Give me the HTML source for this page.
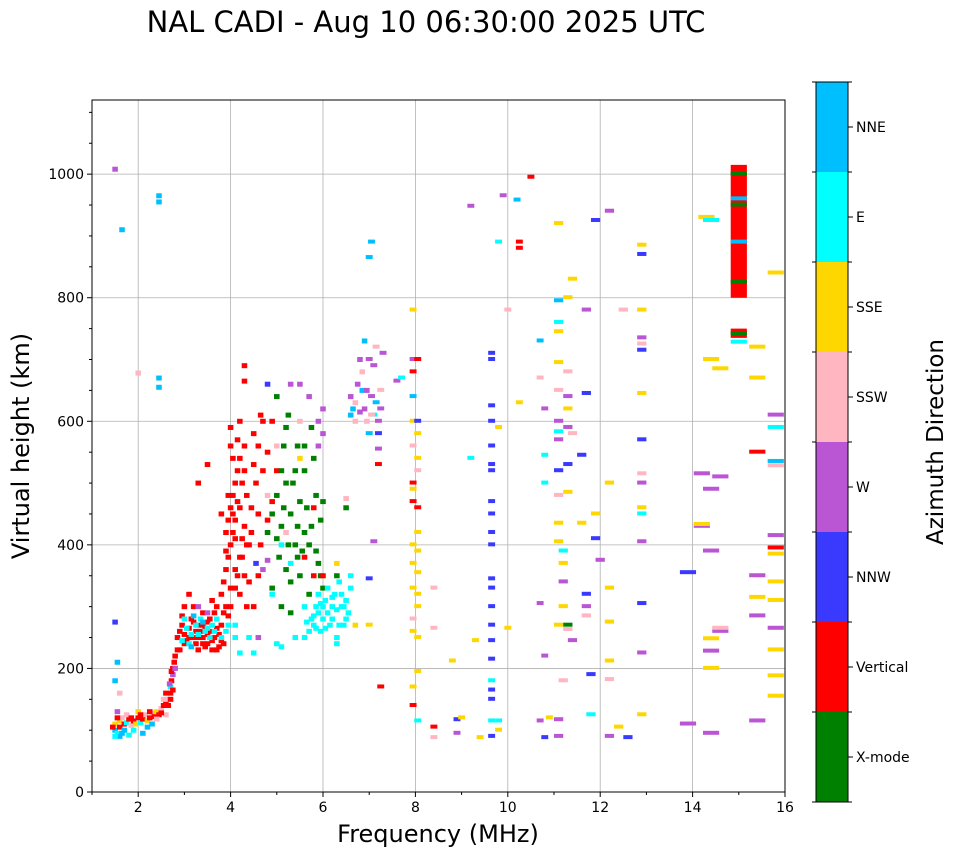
<!DOCTYPE html>
<html><head><meta charset="utf-8"><style>
html,body{margin:0;padding:0;background:#fff;}
svg{display:block;font-family:"DejaVu Sans","Liberation Sans",sans-serif;}
</style></head><body>
<svg id="chart" width="958" height="857" viewBox="0 0 958 857" xmlns="http://www.w3.org/2000/svg">
<rect width="958" height="857" fill="#fff"/>
<text x="426" y="32" font-size="29" text-anchor="middle">NAL CADI - Aug 10 06:30:00 2025 UTC</text>
<g id="grid"></g>
<g id="marks"></g>
<rect x="92" y="100" width="693" height="692" fill="none" stroke="#000" stroke-width="1"/>
<g id="axes"></g>
<text x="438" y="842" font-size="24" text-anchor="middle">Frequency (MHz)</text>
<text transform="translate(29,446) rotate(-90)" font-size="24" text-anchor="middle">Virtual height (km)</text>
<g id="cbar"></g>
<text transform="translate(943,442) rotate(-90)" font-size="23" text-anchor="middle">Azimuth Direction</text>
</svg>
<script>
const NS="http://www.w3.org/2000/svg";
const directions=["X-mode","Vertical","NNW","W","SSW","SSE","E","NNE"];
const dirColors=["#008000","#ff0000","#3a3aff","#ba55d3","#ffb6c1","#ffd700","#00ffff","#00bfff"];
const xTicks=[2,4,6,8,10,12,14,16];
const yTicks=[0,200,400,600,800,1000];
// points: [frequency MHz, virtual height km, direction index, optional extent km]
const points=[
[1.5,100,7],[1.5,110,5],[1.55,95,6],[1.6,105,1],[1.6,115,5],[1.65,120,4],[1.7,110,1],[1.7,100,7],[1.75,112,6],[1.8,118,1],[1.85,108,4],[1.9,115,1],[1.95,110,5],[2.0,120,1],[2.05,112,6],[2.1,118,1],[2.15,125,4],[2.2,115,5],[2.25,120,1],[2.3,128,4],[2.35,122,1],[2.4,130,5],[2.45,125,1],[2.5,135,4],[2.55,140,1],[2.6,145,1],[2.65,150,4],[2.7,160,1],[2.7,170,6],[2.72,180,1],[2.75,190,3],[2.75,200,1],[2.78,210,1],[1.6,90,7],[1.8,92,6],[2.1,95,7],[2.0,130,5],[1.55,130,3],[1.5,275,2],[1.55,210,7],[1.5,180,7],[1.6,160,4],[1.5,1008,3],[1.65,910,7],[2.45,965,7],[2.45,955,7],[2.45,670,7],[2.45,655,7],[2.0,678,4],[1.45,105,1],[1.5,90,6],[2.3,110,7],[2.6,125,4],[2.65,140,1],[2.7,150,1],
[1.55,120,1],[1.65,95,7],[1.75,125,4],[1.85,120,1],[1.9,100,6],[2.05,125,1],[2.2,105,7],[2.25,130,1],[2.4,118,4],[2.5,128,1],[2.55,150,4],[2.6,160,1],[2.68,175,3],[2.72,195,1],[2.75,165,1],[2.8,220,1],[2.8,200,3],[2.85,230,1],
[2.85,250,1],[2.9,260,1],[2.95,270,1],[3.0,255,1],[3.05,245,1],[3.1,265,1],[3.15,280,1],[3.2,250,1],[3.25,240,1],[3.3,270,1],[3.35,260,1],[3.4,250,1],[3.45,235,1],[3.5,275,1],[3.55,260,1],[3.6,245,1],[3.65,290,1],[3.7,230,1],[3.75,255,1],[3.8,270,1],[3.85,240,1],[3.9,300,1],[3.95,285,1],[2.9,230,1],[3.0,300,1],[3.1,320,1],[3.2,300,1],[3.4,290,1],[3.6,310,1],[3.5,240,1],[3.3,230,1],[3.65,250,1],[3.75,235,1],[3.55,280,1],[3.45,265,1],
[3.0,240,1],[3.1,250,1],[3.2,275,1],[3.3,250,1],[3.4,240,1],[3.5,255,1],[3.6,230,1],[3.7,265,1],[3.8,245,1],[3.85,290,1],[3.7,300,1],[3.4,270,1],[3.25,260,1],[2.95,285,1],
[2.95,245,6],[3.0,280,6],[3.1,240,6],[3.15,255,6],[3.25,270,6],[3.35,280,6],[3.45,260,6],[3.55,250,6],[3.6,270,6],[3.7,280,6],[3.8,250,6],[3.9,260,6],[4.1,250,6],[4.1,270,6],[4.2,225,6],[4.5,225,6],[4.4,250,6],[3.05,265,6],[3.2,285,7],[3.4,275,7],[3.3,255,6],[3.5,265,6],[3.15,235,7],[3.65,260,6],[3.95,270,6],
[3.3,300,3],[3.5,290,3],[4.6,250,3],[4.7,360,3],[4.8,375,3],[4.55,370,2],
[3.8,320,1],[3.85,340,1],[3.9,360,1],[3.95,380,1],[4.0,400,1],[4.05,420,1],[4.1,440,1],[4.0,460,1],[4.05,480,1],[4.1,500,1],[4.15,520,1],[4.2,540,1],[4.0,560,1],[4.0,590,1],[4.2,600,1],[4.3,520,1],[4.3,430,1],[4.25,380,1],[4.15,350,1],[4.1,330,1],[4.35,300,1],[4.4,400,1],[3.9,420,1],[3.95,440,1],[4.45,460,1],[4.5,530,1],[4.6,560,1],[4.7,600,1],[4.65,610,1],[4.3,690,1],[4.3,665,1],[3.8,450,1],[3.5,530,1],[3.3,500,1],[4.2,460,1],[4.4,340,1],[4.5,300,1],[4.6,350,1],[4.8,440,1],[4.9,470,1],[4.7,520,1],[5.0,520,1],[4.1,360,1],[4.2,320,1],[4.0,300,1],[4.25,410,1],[4.35,480,1],
[3.9,390,1],[4.0,330,1],[4.1,410,1],[4.15,470,1],[4.2,380,1],[4.3,350,1],[4.05,540,1],[4.15,570,1],[4.3,560,1],[3.95,480,1],[4.05,450,1],[4.25,500,1],[4.35,400,1],[4.45,420,1],[4.5,580,1],[4.55,500,1],[4.6,450,1],[4.65,400,1],[4.8,550,1],[4.9,600,1],
[4.8,420,0],[4.9,450,0],[5.0,480,0],[5.05,380,0],[5.1,430,0],[5.15,560,0],[5.2,590,0],[5.2,500,0],[5.3,450,0],[5.3,340,0],[5.4,400,0],[5.45,380,0],[5.5,350,0],[5.5,470,0],[5.6,420,0],[5.6,520,0],[5.7,400,0],[5.7,320,0],[5.8,540,0],[5.85,480,0],[5.9,370,0],[5.95,440,0],[6.0,330,0],[5.1,300,0],[5.3,290,0],[5.25,610,0],[5.0,640,0],[6.0,470,0],[5.75,590,0],[4.9,330,0],[5.4,520,0],[5.6,560,0],
[5.0,410,0],[5.15,460,0],[5.25,400,0],[5.35,500,0],[5.45,430,0],[5.55,390,0],[5.65,460,0],[5.75,430,0],[5.85,390,0],[5.95,350,0],[5.2,360,0],[5.45,560,0],[5.1,520,0],
[4.8,480,4],[5.0,560,4],[5.2,420,4],[5.5,600,4],[5.9,560,3],[6.0,620,3],[6.0,580,3],[5.9,600,3],[5.7,640,3],[5.5,660,3],[5.3,660,3],[4.8,660,2],[5.1,400,6],[5.3,370,6],[5.6,300,6],[4.9,320,6],[5.4,250,6],[5.1,235,6],[5.0,240,6],[5.8,350,1],[5.6,380,1],[6.0,350,1],[5.8,460,1],[5.5,540,5],
[5.7,260,6],[5.75,280,6],[5.8,270,6],[5.85,300,6],[5.9,290,6],[5.95,260,6],[6.0,280,6],[6.05,310,6],[6.1,290,6],[6.15,270,6],[6.2,300,6],[6.25,320,6],[6.3,250,6],[6.35,340,6],[6.4,300,6],[6.45,270,6],[6.5,310,6],[6.55,290,6],[6.6,330,6],[6.6,350,6],[6.3,240,6],[6.1,330,6],[5.9,320,6],[5.6,250,6],[5.65,275,6],[6.4,320,6],[6.5,280,6],
[5.8,285,6],[5.95,305,6],[6.05,265,6],[6.2,280,6],[6.3,295,6],[6.35,270,6],[6.45,300,6],[6.2,315,6],[6.0,300,6],[5.85,265,6],
[6.5,460,0],[6.5,475,4],[6.3,370,5],[6.3,350,0],[6.7,270,5],
[6.6,640,3],[6.65,620,7],[6.7,600,4],[6.75,660,3],[6.8,700,3],[6.85,650,7],[6.9,620,3],[6.95,600,4],[7.0,580,7],[7.05,640,3],[7.1,690,3],[7.15,720,4],[7.2,600,3],[7.25,650,4],[7.3,710,3],[6.6,610,7],[6.9,730,7],[7.0,700,3],[7.1,610,6],[7.2,580,2],[7.05,890,7],[7.0,865,7],[7.2,530,1],[7.2,555,3],[7.0,345,2],[7.0,270,5],[7.1,405,3],[7.6,665,3],[7.7,670,6],[7.25,170,1],
[6.7,630,4],[6.8,615,3],[6.85,680,4],[6.95,650,3],[7.05,610,4],[7.15,630,7],[7.25,620,3],
[7.95,780,5],[7.95,700,3],[7.95,680,1],[7.95,640,7],[7.95,600,5],[7.95,560,4],[7.95,500,1],[7.95,490,5],[7.95,470,1],[7.95,400,5],[7.95,370,5],[7.95,330,5],[7.95,280,4],[7.95,260,5],[7.95,170,5],[7.95,140,1],[8.05,580,5],[8.05,540,5],[8.05,460,1],[8.05,420,5],[8.05,390,5],[8.05,355,5],[8.05,320,5],[8.05,300,5],[8.05,195,5],[8.05,115,6],[8.05,250,5],[8.05,700,1],[8.05,600,2],[8.05,520,4],[8.4,105,1],[8.4,88,4],[8.4,330,4],[8.4,265,4],[8.9,117,2],[8.9,95,3],[8.8,212,5],[9.0,120,5],[9.2,540,6],[9.2,948,3],[9.3,245,5],[9.4,88,5],
[9.65,710,2],[9.65,700,2],[9.65,625,2],[9.65,600,2],[9.65,560,2],[9.65,530,2],[9.65,520,2],[9.65,470,2],[9.65,450,2],[9.65,420,2],[9.65,400,2],[9.65,345,2],[9.65,330,2],[9.65,300,2],[9.65,270,2],[9.65,245,2],[9.65,215,2],[9.65,165,2],[9.65,150,2],[9.65,90,2],
[9.65,115,6],[9.65,180,6],[9.8,890,6],[9.8,590,5],[9.8,100,5],[9.8,115,6],[9.9,965,3],[10.0,780,4],[10.0,265,5],[10.2,958,7],[10.25,890,1],[10.25,880,1],[10.25,630,5],[10.5,995,1],[10.7,730,7],[10.7,670,4],[10.7,305,3],[10.7,115,3],[10.8,620,3],[10.8,545,6],[10.8,500,6],[10.8,220,3],[10.8,88,2],[10.9,120,5],
[11.1,920,5],[11.1,795,7],[11.1,760,6],[11.1,745,5],[11.1,695,5],[11.1,650,4],[11.1,600,3],[11.1,583,6],[11.1,570,3],[11.1,520,2],[11.1,480,4],[11.1,435,5],[11.1,405,5],[11.1,270,5],[11.1,117,3],[11.1,90,3],[11.2,390,6],[11.2,370,5],[11.2,340,3],[11.2,300,5],[11.2,180,4],[11.3,800,5],[11.3,680,4],[11.3,640,3],[11.3,620,5],[11.3,590,3],[11.3,530,2],[11.3,485,5],[11.3,270,0],[11.3,263,4],[11.4,830,5],[11.4,580,4],[11.4,245,3],[11.6,545,2],[11.6,435,5],[11.7,780,3],[11.7,645,2],[11.7,320,2],[11.7,300,3],[11.7,285,4],[11.8,125,6],[11.8,190,2],[11.9,925,2],[11.9,410,2],[11.9,450,5],[12.0,375,3],
[12.2,940,3],[12.2,500,5],[12.2,330,5],[12.2,275,5],[12.2,212,5],[12.2,182,4],[12.2,90,3],[12.4,105,5],[12.5,780,4],[12.6,88,2],[12.9,780,5],[12.9,735,3],[12.9,715,2],[12.9,645,5],[12.9,570,2],[12.9,515,4],[12.9,500,3],[12.9,460,5],[12.9,450,6],[12.9,405,3],[12.9,305,2],[12.9,225,3],[12.9,125,5],[12.9,885,5],[12.9,870,2],[12.9,725,4],
[13.9,355,2],[13.9,110,3],[14.2,515,3],[14.2,430,3],[14.2,433,5],[14.3,930,5],[14.4,925,6],[14.4,700,5],[14.4,490,3],[14.4,390,3],[14.4,248,5],[14.4,228,3],[14.4,200,5],[14.4,95,3],[14.6,685,5],[14.6,510,3],[14.6,260,3],[14.6,265,4],
[15.0,800,1,215],[15.0,825,0],[15.0,950,0],[15.0,1000,0],[15.0,890,7],[15.0,960,7],[15.0,735,1,15],[15.0,742,0],[15.0,728,6],
[15.4,720,5],[15.4,670,5],[15.4,550,1],[15.4,350,3],[15.4,315,5],[15.4,285,3],[15.4,115,3],[15.8,840,5],[15.8,610,3],[15.8,590,6],[15.8,535,7],[15.8,528,4],[15.8,415,3],[15.8,395,1],[15.8,385,5],[15.8,340,5],[15.8,310,5],[15.8,265,3],[15.8,230,5],[15.8,188,5],[15.8,155,5]
];
const X0=92,X1=785,Y0=792,Y1=100;
const fMin=1,fMax=16,hMin=0,hMax=1120;
function xs(f){return X0+(f-fMin)/(fMax-fMin)*(X1-X0);}
function ys(h){return Y0-(h-hMin)/(hMax-hMin)*(Y0-Y1);}
function mk(tag,attrs,parent){const e=document.createElementNS(NS,tag);for(const k in attrs)e.setAttribute(k,attrs[k]);parent.appendChild(e);return e;}
const grid=document.getElementById('grid'),axes=document.getElementById('axes'),marks=document.getElementById('marks'),cbar=document.getElementById('cbar');
xTicks.forEach(t=>{
  const x=xs(t);
  if(t<fMax){const g=mk('line',{x1:x,x2:x,y1:Y1,y2:Y0,stroke:'#b0b0b0','stroke-width':0.8},grid);
  
  }
  mk('line',{x1:x,x2:x,y1:Y0,y2:Y0+5,stroke:'#000'},axes);
  const l=mk('text',{x:x,y:Y0+20,'font-size':14,'text-anchor':'middle'},axes);l.textContent=t;
  
  
});
for(let f=1;f<16;f+=2){const x=xs(f);mk('line',{x1:x,x2:x,y1:Y0,y2:Y0+3,stroke:'#000'},axes);}
yTicks.forEach(t=>{
  const y=ys(t);
  const g=mk('line',{x1:X0,x2:X1,y1:y,y2:y,stroke:'#b0b0b0','stroke-width':0.8},grid);
  
  
  mk('line',{x1:X0-5,x2:X0,y1:y,y2:y,stroke:'#000'},axes);
  const l=mk('text',{x:X0-8,y:y+5,'font-size':14,'text-anchor':'end'},axes);l.textContent=t;
  
  
});
for(let h=50;h<hMax;h+=50){if(h%200===0)continue;const y=ys(h);mk('line',{x1:X0-3,x2:X0,y1:y,y2:y,stroke:'#000'},axes);}
points.forEach(p=>{
  const f=p[0],h=p[1],c=p[2],ext=p[3];
  const w=f<7?0.12:(f<11?0.15:(f<13?0.2:0.35));
  const x=xs(f-w/2),x2=xs(f+w/2);
  let y,hh;
  if(ext){y=ys(h+ext);hh=ys(h)-y;}else{y=ys(h)-2.5;hh=f<7?5:4;}
  const r=mk('rect',{x:x,y:y,width:x2-x,height:hh,fill:dirColors[c]},marks);
  
  
});
const CX=816,CW=32,CT=82,CB=802,seg=(CB-CT)/directions.length;
directions.forEach((d,i)=>{
  const y=CB-(i+1)*seg;
  const r=mk('rect',{x:CX,y:y,width:CW,height:seg,fill:dirColors[i]},cbar);
  
  
  mk('line',{x1:CX+CW,x2:CX+CW+5,y1:y+seg/2,y2:y+seg/2,stroke:'#000'},cbar);
  const l=mk('text',{x:CX+CW+8,y:y+seg/2+5,'font-size':14},cbar);l.textContent=d;
  
  
});
for(let i=0;i<=directions.length;i++){const y=CT+i*seg;mk('line',{x1:CX-4,x2:CX,y1:y,y2:y,stroke:'#000'},cbar);mk('line',{x1:CX+CW,x2:CX+CW+4,y1:y,y2:y,stroke:'#000'},cbar);}
mk('rect',{x:CX,y:CT,width:CW,height:CB-CT,fill:'none',stroke:'#000'},cbar);
</script>
</body></html>
